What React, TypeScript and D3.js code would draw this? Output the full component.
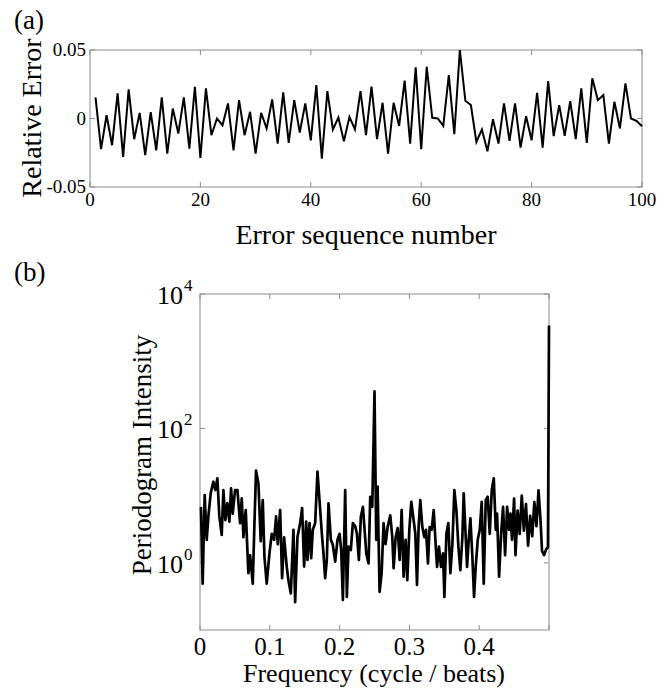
import React from "react";
import * as d3 from "d3";

// ---- Panel (a): relative error sequence ----
const errIndex = d3.range(1, 101);
const relErr = [
  0.0154, -0.0224, 0.0024, -0.0195, 0.0183, -0.028, 0.0212, -0.0151, 0.0041, -0.0268,
  0.0046, -0.0232, 0.0154, -0.0256, 0.0073, -0.011, 0.0154, -0.022, 0.0232, -0.0288,
  0.022, -0.0122, 0.0, -0.0049, 0.011, -0.0232, 0.0134, -0.0122, 0.0049, -0.0256,
  0.0041, -0.0073, 0.0139, -0.0183, 0.019, -0.0178, 0.0134, -0.0102, 0.011, -0.0159,
  0.0244, -0.0293, 0.02, -0.008, 0.0007, -0.0166, 0.0012, -0.008, 0.02, -0.0122,
  0.0232, -0.0151, 0.0115, -0.0256, 0.0115, -0.0054, 0.0276, -0.0183, 0.0373, -0.0224,
  0.0378, 0.0005, 0.0, -0.0054, 0.0317, -0.0115, 0.05, 0.0129, 0.0098, -0.0171,
  -0.008, -0.0239, -0.0005, -0.0183, 0.011, -0.0163, 0.011, -0.0212, 0.0017, -0.0159,
  0.0188, -0.0212, 0.0273, -0.0129, 0.0098, -0.0127, 0.0127, -0.0151, 0.022, -0.0178,
  0.0293, 0.0134, 0.0171, -0.0183, 0.0122, -0.0073, 0.0256, 0.0, -0.0017, -0.0056,
];
const topXTicks = [0, 20, 40, 60, 80, 100];
const topYTicks = [-0.05, 0, 0.05];
const topYTickLabels = ["-0.05", "0", "0.05"];

// ---- Panel (b): periodogram ----
const freq = [
  0.0014, 0.0038, 0.0067, 0.0096, 0.012, 0.0153, 0.0191, 0.022, 0.0249, 0.0277,
  0.0311, 0.0335, 0.0363, 0.0392, 0.0421, 0.0445, 0.0469, 0.0502, 0.0536, 0.0574,
  0.0598, 0.0622, 0.0655, 0.0693, 0.0717, 0.0756, 0.078, 0.0803, 0.0837, 0.087,
  0.0899, 0.0923, 0.0956, 0.0995, 0.1028, 0.1062, 0.109, 0.1114, 0.1148, 0.1176,
  0.1205, 0.1243, 0.1267, 0.1301, 0.1339, 0.1363, 0.1396, 0.1435, 0.1463, 0.1492,
  0.1521, 0.154, 0.1569, 0.1593, 0.1616, 0.165, 0.1683, 0.1712, 0.1746, 0.1769,
  0.1793, 0.1817, 0.1841, 0.1875, 0.1903, 0.1937, 0.197, 0.1999, 0.2023, 0.2047,
  0.208, 0.2104, 0.2128, 0.2161, 0.219, 0.2224, 0.2248, 0.2276, 0.2305, 0.2334,
  0.2358, 0.2382, 0.2415, 0.2439, 0.2468, 0.25, 0.2525, 0.2544, 0.2573, 0.2602,
  0.263, 0.2659, 0.2688, 0.2726, 0.2755, 0.2774, 0.2803, 0.2832, 0.286, 0.2889,
  0.2917, 0.2946, 0.297, 0.2999, 0.3027, 0.3061, 0.3085, 0.3109, 0.3132, 0.3156,
  0.3185, 0.3214, 0.3238, 0.3266, 0.329, 0.3319, 0.3348, 0.3376, 0.3396, 0.3424,
  0.3453, 0.3482, 0.3501, 0.353, 0.3558, 0.3587, 0.3616, 0.3644, 0.3673, 0.3702,
  0.373, 0.3759, 0.3778, 0.3807, 0.3826, 0.385, 0.3874, 0.3902, 0.3926, 0.395,
  0.3979, 0.4008, 0.4036, 0.4065, 0.4094, 0.4122, 0.4151, 0.418, 0.4209, 0.4237,
  0.4256, 0.4285, 0.4314, 0.4342, 0.4371, 0.44, 0.4429, 0.4448, 0.447, 0.45,
  0.452, 0.455, 0.458, 0.461, 0.464, 0.467, 0.47, 0.473, 0.476, 0.479,
  0.482, 0.485, 0.488, 0.49, 0.493, 0.496, 0.4985, 0.5,
];
const intensity = [
  6.8, 0.49, 10.2, 2.2, 4.9, 10.8, 16.1, 12.1, 18.1, 4.9,
  2.6, 12.1, 4.3, 7.7, 4.1, 12.8, 5.4, 12.1, 12.1, 3.9,
  9.1, 2.4, 6.1, 0.7, 1.3, 0.49, 3.9, 23.5, 15.2, 2.1,
  8.6, 1.23, 0.49, 1.38, 2.7, 2.2, 4.9, 1.9, 6.1, 0.59,
  2.4, 0.87, 0.55, 0.35, 3.1, 0.26, 2.4, 3.9, 6.5, 0.88,
  4.1, 1.1, 3.9, 1.17, 3.1, 3.9, 22.7, 8.6, 2.7, 1.38,
  0.59, 1.1, 7.7, 2.2, 1.84, 1.04, 2.2, 2.7, 1.55, 0.28,
  12.1, 0.31, 1.74, 1.55, 3.9, 3.5, 2.7, 1.1, 4.9, 6.8,
  3.1, 1.38, 0.98, 9.6, 6.8, 355, 2.2, 13.6, 0.37, 0.7,
  3.9, 1.9, 3.4, 5.1, 2.4, 0.83, 2.4, 3.3, 1.1, 6.1,
  0.62, 2.2, 0.55, 3.1, 8.1, 4.3, 2.7, 0.47, 3.4, 8.6,
  3.4, 2.4, 3.1, 0.98, 3.4, 3.1, 6.1, 1.9, 0.87, 1.74,
  0.87, 1.38, 0.31, 2.7, 3.9, 0.7, 1.9, 12.1, 6.1, 1.74,
  0.78, 2.4, 10.8, 2.4, 0.87, 2.2, 4.6, 1.23, 0.31, 0.87,
  2.2, 3.1, 8.1, 0.49, 8.6, 9.6, 2.7, 12.1, 18.1, 3.1,
  5.4, 0.62, 2.7, 6.8, 1.3, 6.8, 3.1, 5.4, 2.2, 9.0,
  1.3, 6.0, 2.7, 10.0, 3.0, 7.5, 1.8, 5.0, 2.5, 8.0,
  3.5, 12.0, 4.0, 1.5, 1.3, 1.6, 1.7, 3400,
];
const botXTicks = [0, 0.1, 0.2, 0.3, 0.4, 0.5];
const botXTickLabels = ["0", "0.1", "0.2", "0.3", "0.4", ""];
const botYTicks = [1, 100, 10000];
const botYExponents = ["0", "2", "4"];

const FONT = "'Liberation Serif', 'Times New Roman', serif";
const AXIS = "#8c8c8c";

export default function App() {
  const xT = d3.scaleLinear().domain([0, 100]).range([90, 642]);
  const yT = d3.scaleLinear().domain([-0.05, 0.05]).range([187, 50]);
  const xB = d3.scaleLinear().domain([0, 0.5]).range([200, 549]);
  const yB = d3.scaleLog().domain([0.1, 10000]).range([630, 294]);

  const lineT = d3
    .line<number>()
    .x((_, i) => xT(errIndex[i]))
    .y((d) => yT(d))(relErr) as string;
  const lineB = d3
    .line<number>()
    .x((_, i) => xB(freq[i]))
    .y((d) => yB(d))(intensity) as string;

  const tk = 5;
  return (
    <svg
      width={671}
      height={689}
      style={{ position: "absolute", left: 0, top: 0, background: "#fff" }}
      fontFamily={FONT}
    >
      <rect x={0} y={0} width={671} height={689} fill="#fff" />
      {/* Panel (a) */}
      <text x={14} y={29} fontSize={27} fill="#000">(a)</text>
      <rect x={xT(0)} y={yT(0.05)} width={xT(100) - xT(0)} height={yT(-0.05) - yT(0.05)} fill="none" stroke={AXIS} strokeWidth={1} />
      {topXTicks.map((t) => (
        <g key={"tx" + t}>
          <line x1={xT(t)} x2={xT(t)} y1={yT(-0.05)} y2={yT(-0.05) - tk} stroke={AXIS} />
          <line x1={xT(t)} x2={xT(t)} y1={yT(0.05)} y2={yT(0.05) + tk} stroke={AXIS} />
          <text x={xT(t)} y={206} fontSize={19} textAnchor="middle" fill="#000">{t}</text>
        </g>
      ))}
      {topYTicks.map((t, i) => (
        <g key={"ty" + t}>
          <line x1={xT(0)} x2={xT(0) + tk} y1={yT(t)} y2={yT(t)} stroke={AXIS} />
          <line x1={xT(100)} x2={xT(100) - tk} y1={yT(t)} y2={yT(t)} stroke={AXIS} />
          <text x={86} y={yT(t) + 6} fontSize={19} textAnchor="end" fill="#000">{topYTickLabels[i]}</text>
        </g>
      ))}
      <path d={lineT} fill="none" stroke="#000" strokeWidth={2} strokeLinejoin="miter" />
      <text x={366} y={244} fontSize={28} textAnchor="middle" fill="#000">Error sequence number</text>
      <text transform={`translate(41,118) rotate(-90)`} fontSize={28} textAnchor="middle" fill="#000">Relative Error</text>

      {/* Panel (b) */}
      <text x={14} y={281} fontSize={27} fill="#000">(b)</text>
      <rect x={xB(0)} y={yB(10000)} width={xB(0.5) - xB(0)} height={yB(0.1) - yB(10000)} fill="none" stroke={AXIS} strokeWidth={1} />
      {botXTicks.map((t, i) => (
        <g key={"bx" + t}>
          <line x1={xB(t)} x2={xB(t)} y1={yB(0.1)} y2={yB(0.1) - tk} stroke={AXIS} />
          <line x1={xB(t)} x2={xB(t)} y1={yB(10000)} y2={yB(10000) + tk} stroke={AXIS} />
          <text x={xB(t)} y={655} fontSize={25} textAnchor="middle" fill="#000">{botXTickLabels[i]}</text>
        </g>
      ))}
      {botYTicks.map((t, i) => (
        <g key={"by" + t}>
          <line x1={xB(0)} x2={xB(0) + tk} y1={yB(t)} y2={yB(t)} stroke={AXIS} />
          <line x1={xB(0.5)} x2={xB(0.5) - tk} y1={yB(t)} y2={yB(t)} stroke={AXIS} />
          <text x={183} y={yB(t) + 10} fontSize={26} textAnchor="end" fill="#000">10</text>
          <text x={184} y={yB(t) - 3} fontSize={17} textAnchor="start" fill="#000">{botYExponents[i]}</text>
        </g>
      ))}
      <path d={lineB} fill="none" stroke="#000" strokeWidth={2.7} strokeLinejoin="round" />
      <text x={374} y={682} fontSize={26} textAnchor="middle" fill="#000">Frequency (cycle / beats)</text>
      <text transform={`translate(151,455) rotate(-90)`} fontSize={27} textAnchor="middle" fill="#000">Periodogram Intensity</text>
    </svg>
  );
}
